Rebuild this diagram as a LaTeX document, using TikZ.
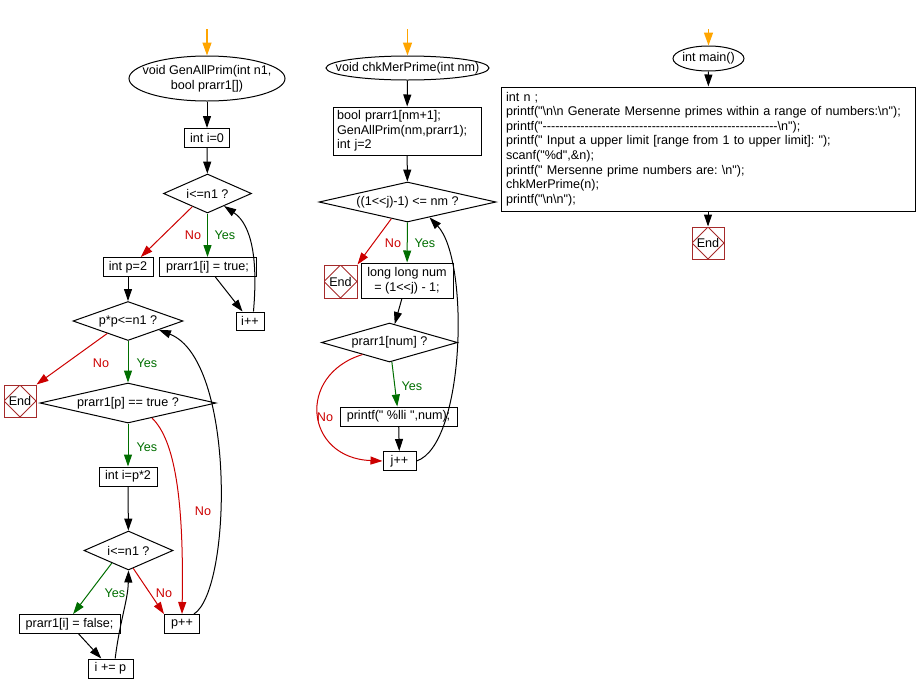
\documentclass[tikz,border=0pt]{standalone}
\usepackage{fontspec}
\setmainfont{Liberation Sans}[Ligatures=TeXOff]
\usetikzlibrary{shapes.geometric, arrows.meta, positioning, calc}
\definecolor{yesgreen}{RGB}{0,110,0}
\definecolor{nored}{RGB}{204,0,0}
\definecolor{endred}{RGB}{165,42,42}
\definecolor{startorange}{RGB}{255,165,0}
\newcommand{\fs}{\fontsize{12.6}{14.6}\selectfont\frenchspacing}
\newcommand{\bs}{\textbackslash}

\begin{document}
\begin{tikzpicture}[
    x=1pt, y=-1pt,
    base/.style={font=\fs, inner sep=0pt},
    block/.style={base, rectangle, draw, line width=1pt, minimum height=19pt},
    decision/.style={base, diamond, draw, line width=1pt, minimum height=39pt},
    term/.style={base, ellipse, draw, line width=1pt},
    stopbox/.style={base, rectangle, draw=endred, line width=1pt, minimum size=32pt,
        path picture={\draw[endred, line width=0.8pt] (path picture bounding box.north) -- (path picture bounding box.east) -- (path picture bounding box.south) -- (path picture bounding box.west) -- cycle;}},
    arrow/.style={-{Triangle[length=12pt,width=8pt]}, line width=1pt},
    yesarrow/.style={arrow, yesgreen},
    noarrow/.style={arrow, nored},
    startarrow/.style={-{Triangle[length=13pt,width=9pt]}, line width=1.4pt, startorange},
    yeslab/.style={base, text=yesgreen},
    nolab/.style={base, text=nored}
]
\useasboundingbox (0,0) rectangle (917,694);

% GenAllPrim
\coordinate (st1) at (207,29);
\node[term, minimum width=156pt, minimum height=45pt, label={[base, align=center]center:{void GenAllPrim(int n1,\\bool prarr1[])}}] (gen) at (207,78.5) {};
\node[block, minimum width=45pt] (inti) at (207,138) {int i=0};
\node[decision, minimum width=88pt, aspect=2.25] (ile1) at (207.5,193.5) {i<=n1 ?};
\node[block, minimum width=50pt] (intp) at (128,267) {int p=2};
\node[block, minimum width=97pt] (settrue) at (207.5,267) {prarr1[i] = true;};
\node[block, minimum width=28pt, minimum height=18pt] (inci) at (250,321) {i++};
\node[decision, minimum width=110pt, aspect=2.8] (pple) at (128,321) {p*p<=n1 ?};
\node[stopbox] (end1) at (20,401) {End};
\node[decision, minimum width=176pt, minimum height=40pt, aspect=4.4] (istrue) at (128,403) {prarr1[p] == true ?};
\node[block, minimum width=58pt] (intip) at (128,476.5) {int i=p*2};
\node[decision, minimum width=89pt, aspect=2.25] (ile2) at (128.5,550.5) {i<=n1 ?};
\node[block, minimum width=101pt] (setfalse) at (69.5,624) {prarr1[i] = false;};
\node[block, minimum width=35pt] (incp) at (182,624) {p++};
\node[block, minimum width=45pt] (addp) at (110.5,668.5) {i += p};

\node[nolab] (no1) at (193,235) {No};
\node[yeslab] (yes1) at (225,235) {Yes};
\node[nolab] (no2) at (101,363) {No};
\node[yeslab] (yes2) at (147,363) {Yes};
\node[yeslab] (yes3) at (147,447) {Yes};
\node[nolab] (no3) at (203,511) {No};
\node[yeslab] (yes4) at (115,593) {Yes};
\node[nolab] (no4) at (164,593) {No};

\draw[startarrow] (st1) -- (gen);
\draw[arrow] (gen) -- (inti);
\draw[arrow] (inti) -- (ile1);
\draw[noarrow] (ile1.-139) -- (intp.38);
\draw[yesarrow] (ile1) -- (settrue);
\draw[arrow] (settrue) -- (inci);
\draw[arrow] (inci.70) .. controls (258,260) and (252,225) .. (ile1.-37);
\draw[arrow] (intp) -- (pple);
\draw[noarrow] (pple.-149) -- (end1.north east);
\draw[yesarrow] (pple) -- (istrue);
\draw[yesarrow] (istrue) -- (intip);
\draw[noarrow] (istrue.-32) .. controls (175,440) and (184,500) .. (incp.north);
\draw[arrow] (intip) -- (ile2);
\draw[yesarrow] (ile2.-143) -- (setfalse.70);
\draw[noarrow] (ile2.-75) -- (incp.north west);
\draw[arrow] (setfalse) -- (addp);
\draw[arrow] (addp.65) .. controls (120,620) and (128,600) .. (ile2.south);
\draw[arrow] (incp.40) .. controls (232,590) and (236,360) .. (pple.-16);

% chkMerPrime
\coordinate (st2) at (407.5,29);
\node[term, minimum width=163pt, minimum height=24pt, label={[base]center:{void chkMerPrime(int nm)}}] (chk) at (407.5,68) {};
\node[block, minimum width=148pt, minimum height=48pt, inner xsep=4pt, text width=140pt, align=left] (init) at (407,131) {bool prarr1[nm+1];\\GenAllPrim(nm,prarr1);\\int j=2};
\node[decision, minimum width=177pt, minimum height=40pt, aspect=4.4] (cond) at (407.5,202) {((1<<j)-1) <= nm ?};
\node[stopbox, minimum size=33pt] (end2) at (340.5,281.5) {End};
\node[block, minimum width=92pt, minimum height=35pt, align=center] (num) at (407,280.5) {long long num\\= (1<<j) - 1;};
\node[decision, minimum width=136pt, aspect=3.5] (chkp) at (389.5,342.5) {prarr1[num] ?};
\node[block, minimum width=117pt] (print) at (398.5,416.5) {printf(" \%lli ",num);};
\node[block, minimum width=33pt] (jpp) at (399.5,461) {j++};

\node[nolab] (no5) at (393,243) {No};
\node[yeslab] (yes5) at (425,243) {Yes};
\node[yeslab] (yes6) at (412,386) {Yes};
\node[nolab] (no6) at (325,417) {No};

\draw[startarrow] (st2) -- (chk);
\draw[arrow] (chk) -- (init);
\draw[arrow] (init) -- (cond);
\draw[noarrow] (cond.-134) -- (end2.north east);
\draw[yesarrow] (cond) -- (num);
\draw[arrow] (num) -- (chkp);
\draw[yesarrow] (chkp) -- (print);
\draw[noarrow] (chkp.-156) .. controls (296,375) and (305,458) .. (jpp.west);
\draw[arrow] (print) -- (jpp);
\draw[arrow] (jpp.east) .. controls (465,445) and (470,260) .. (cond.-35);

% main
\coordinate (st3) at (708.5,29);
\node[term, minimum width=71pt, minimum height=25pt, label={[base]center:{int main()}}] (main) at (708.5,58.5) {};
\node[block, minimum width=414pt, minimum height=124pt, inner xsep=5pt, text width=404pt, align=left] (code) at (708,149) {int n ;\\
printf("\bs n\bs n Generate Mersenne primes within a range of numbers:\bs n");\\
printf("--------------------------------------------------------\bs n");\\
printf(" Input a upper limit [range from 1 to upper limit]: ");\\
scanf("\%d",\&n);\\
printf(" Mersenne prime numbers are: \bs n");\\
chkMerPrime(n);\\
printf("\bs n\bs n");};
\node[stopbox] (end3) at (708,243) {End};

\draw[startarrow] (st3) -- (main);
\draw[arrow] (main) -- (code);
\draw[arrow] (code) -- (end3);

\end{tikzpicture}
\end{document}
